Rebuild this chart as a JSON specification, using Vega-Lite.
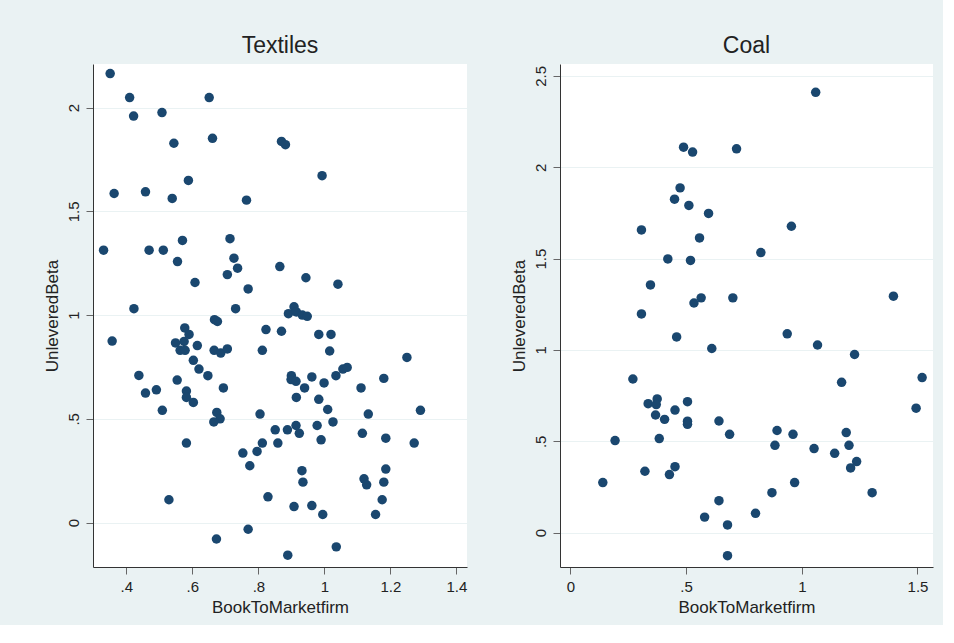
{
  "$schema": "https://vega.github.io/schema/vega-lite/v6.json",
  "background": "#EAF2F3",
  "padding": {"left": 42, "top": 35, "right": 10, "bottom": 10},
  "spacing": 43,
  "config": {
    "font": "Liberation Sans",
    "view": {"fill": "white", "stroke": null},
    "axis": {
      "domainColor": "#333333",
      "domainWidth": 1,
      "tickColor": "#666666",
      "tickSize": 7,
      "labelFontSize": 15,
      "labelColor": "#222222",
      "labelFont": "Liberation Sans",
      "titleFont": "Liberation Sans",
      "titleFontSize": 17,
      "titleFontWeight": "normal",
      "titleColor": "#222222",
      "gridColor": "#EAF2F3",
      "gridWidth": 1.2,
      "labelPadding": 5,
      "titlePadding": 5
    },
    "title": {"fontSize": 23, "fontWeight": "normal", "color": "#222222", "font": "Liberation Sans", "offset": 6, "anchor": "middle", "frame": "group"}
  },
  "datasets": {
    "textiles": [
      {"BookToMarketfirm": 0.351, "UnleveredBeta": 2.164},
      {"BookToMarketfirm": 0.410, "UnleveredBeta": 2.048},
      {"BookToMarketfirm": 0.651, "UnleveredBeta": 2.048},
      {"BookToMarketfirm": 0.422, "UnleveredBeta": 1.959},
      {"BookToMarketfirm": 0.508, "UnleveredBeta": 1.976},
      {"BookToMarketfirm": 0.544, "UnleveredBeta": 1.828},
      {"BookToMarketfirm": 0.661, "UnleveredBeta": 1.852},
      {"BookToMarketfirm": 0.870, "UnleveredBeta": 1.837},
      {"BookToMarketfirm": 0.882, "UnleveredBeta": 1.821},
      {"BookToMarketfirm": 0.993, "UnleveredBeta": 1.672},
      {"BookToMarketfirm": 0.588, "UnleveredBeta": 1.649},
      {"BookToMarketfirm": 0.363, "UnleveredBeta": 1.586},
      {"BookToMarketfirm": 0.458, "UnleveredBeta": 1.594},
      {"BookToMarketfirm": 0.539, "UnleveredBeta": 1.562},
      {"BookToMarketfirm": 0.764, "UnleveredBeta": 1.554},
      {"BookToMarketfirm": 0.331, "UnleveredBeta": 1.313},
      {"BookToMarketfirm": 0.469, "UnleveredBeta": 1.313},
      {"BookToMarketfirm": 0.512, "UnleveredBeta": 1.313},
      {"BookToMarketfirm": 0.570, "UnleveredBeta": 1.360},
      {"BookToMarketfirm": 0.714, "UnleveredBeta": 1.368},
      {"BookToMarketfirm": 0.555, "UnleveredBeta": 1.258},
      {"BookToMarketfirm": 0.726, "UnleveredBeta": 1.274},
      {"BookToMarketfirm": 0.737, "UnleveredBeta": 1.226},
      {"BookToMarketfirm": 0.706, "UnleveredBeta": 1.195},
      {"BookToMarketfirm": 0.865, "UnleveredBeta": 1.234},
      {"BookToMarketfirm": 0.944, "UnleveredBeta": 1.180},
      {"BookToMarketfirm": 1.041, "UnleveredBeta": 1.149},
      {"BookToMarketfirm": 0.608, "UnleveredBeta": 1.157},
      {"BookToMarketfirm": 0.769, "UnleveredBeta": 1.126},
      {"BookToMarketfirm": 0.423, "UnleveredBeta": 1.031},
      {"BookToMarketfirm": 0.731, "UnleveredBeta": 1.031},
      {"BookToMarketfirm": 0.908, "UnleveredBeta": 1.040},
      {"BookToMarketfirm": 0.891, "UnleveredBeta": 1.007},
      {"BookToMarketfirm": 0.915, "UnleveredBeta": 1.015},
      {"BookToMarketfirm": 0.933, "UnleveredBeta": 1.000},
      {"BookToMarketfirm": 0.948, "UnleveredBeta": 0.994},
      {"BookToMarketfirm": 0.357, "UnleveredBeta": 0.875},
      {"BookToMarketfirm": 0.667, "UnleveredBeta": 0.978},
      {"BookToMarketfirm": 0.676, "UnleveredBeta": 0.969},
      {"BookToMarketfirm": 0.577, "UnleveredBeta": 0.938},
      {"BookToMarketfirm": 0.590, "UnleveredBeta": 0.907},
      {"BookToMarketfirm": 0.549, "UnleveredBeta": 0.866},
      {"BookToMarketfirm": 0.575, "UnleveredBeta": 0.873},
      {"BookToMarketfirm": 0.563, "UnleveredBeta": 0.830},
      {"BookToMarketfirm": 0.578, "UnleveredBeta": 0.830},
      {"BookToMarketfirm": 0.615, "UnleveredBeta": 0.853},
      {"BookToMarketfirm": 0.603, "UnleveredBeta": 0.782},
      {"BookToMarketfirm": 0.620, "UnleveredBeta": 0.740},
      {"BookToMarketfirm": 0.647, "UnleveredBeta": 0.708},
      {"BookToMarketfirm": 0.666, "UnleveredBeta": 0.830},
      {"BookToMarketfirm": 0.686, "UnleveredBeta": 0.817},
      {"BookToMarketfirm": 0.706, "UnleveredBeta": 0.837},
      {"BookToMarketfirm": 0.812, "UnleveredBeta": 0.830},
      {"BookToMarketfirm": 0.823, "UnleveredBeta": 0.930},
      {"BookToMarketfirm": 0.870, "UnleveredBeta": 0.922},
      {"BookToMarketfirm": 0.983, "UnleveredBeta": 0.907},
      {"BookToMarketfirm": 1.020, "UnleveredBeta": 0.907},
      {"BookToMarketfirm": 1.016, "UnleveredBeta": 0.827},
      {"BookToMarketfirm": 1.250, "UnleveredBeta": 0.796},
      {"BookToMarketfirm": 0.438, "UnleveredBeta": 0.709},
      {"BookToMarketfirm": 0.458, "UnleveredBeta": 0.624},
      {"BookToMarketfirm": 0.491, "UnleveredBeta": 0.640},
      {"BookToMarketfirm": 0.509, "UnleveredBeta": 0.541},
      {"BookToMarketfirm": 0.554, "UnleveredBeta": 0.687},
      {"BookToMarketfirm": 0.582, "UnleveredBeta": 0.634},
      {"BookToMarketfirm": 0.582, "UnleveredBeta": 0.603},
      {"BookToMarketfirm": 0.603, "UnleveredBeta": 0.579},
      {"BookToMarketfirm": 0.582, "UnleveredBeta": 0.383},
      {"BookToMarketfirm": 0.694, "UnleveredBeta": 0.649},
      {"BookToMarketfirm": 0.674, "UnleveredBeta": 0.531},
      {"BookToMarketfirm": 0.684, "UnleveredBeta": 0.500},
      {"BookToMarketfirm": 0.665, "UnleveredBeta": 0.485},
      {"BookToMarketfirm": 0.529, "UnleveredBeta": 0.110},
      {"BookToMarketfirm": 0.673, "UnleveredBeta": -0.079},
      {"BookToMarketfirm": 0.805, "UnleveredBeta": 0.523},
      {"BookToMarketfirm": 0.753, "UnleveredBeta": 0.335},
      {"BookToMarketfirm": 0.774, "UnleveredBeta": 0.274},
      {"BookToMarketfirm": 0.796, "UnleveredBeta": 0.343},
      {"BookToMarketfirm": 0.812, "UnleveredBeta": 0.383},
      {"BookToMarketfirm": 0.829, "UnleveredBeta": 0.124},
      {"BookToMarketfirm": 0.769, "UnleveredBeta": -0.032},
      {"BookToMarketfirm": 0.851, "UnleveredBeta": 0.447},
      {"BookToMarketfirm": 0.859, "UnleveredBeta": 0.383},
      {"BookToMarketfirm": 0.888, "UnleveredBeta": 0.447},
      {"BookToMarketfirm": 0.914, "UnleveredBeta": 0.468},
      {"BookToMarketfirm": 0.924, "UnleveredBeta": 0.430},
      {"BookToMarketfirm": 0.915, "UnleveredBeta": 0.603},
      {"BookToMarketfirm": 0.900, "UnleveredBeta": 0.708},
      {"BookToMarketfirm": 0.899, "UnleveredBeta": 0.689},
      {"BookToMarketfirm": 0.914, "UnleveredBeta": 0.681},
      {"BookToMarketfirm": 0.940, "UnleveredBeta": 0.649},
      {"BookToMarketfirm": 0.962, "UnleveredBeta": 0.702},
      {"BookToMarketfirm": 0.999, "UnleveredBeta": 0.673},
      {"BookToMarketfirm": 0.983, "UnleveredBeta": 0.594},
      {"BookToMarketfirm": 1.010, "UnleveredBeta": 0.545},
      {"BookToMarketfirm": 0.978, "UnleveredBeta": 0.468},
      {"BookToMarketfirm": 1.026, "UnleveredBeta": 0.485},
      {"BookToMarketfirm": 0.990, "UnleveredBeta": 0.399},
      {"BookToMarketfirm": 1.035, "UnleveredBeta": 0.708},
      {"BookToMarketfirm": 1.056, "UnleveredBeta": 0.740},
      {"BookToMarketfirm": 1.069, "UnleveredBeta": 0.748},
      {"BookToMarketfirm": 0.932, "UnleveredBeta": 0.250},
      {"BookToMarketfirm": 0.935, "UnleveredBeta": 0.195},
      {"BookToMarketfirm": 0.908, "UnleveredBeta": 0.077},
      {"BookToMarketfirm": 0.962, "UnleveredBeta": 0.082},
      {"BookToMarketfirm": 0.995, "UnleveredBeta": 0.039},
      {"BookToMarketfirm": 0.889, "UnleveredBeta": -0.157},
      {"BookToMarketfirm": 1.036, "UnleveredBeta": -0.117},
      {"BookToMarketfirm": 1.111, "UnleveredBeta": 0.649},
      {"BookToMarketfirm": 1.133, "UnleveredBeta": 0.523},
      {"BookToMarketfirm": 1.115, "UnleveredBeta": 0.430},
      {"BookToMarketfirm": 1.120, "UnleveredBeta": 0.211},
      {"BookToMarketfirm": 1.128, "UnleveredBeta": 0.182},
      {"BookToMarketfirm": 1.155, "UnleveredBeta": 0.039},
      {"BookToMarketfirm": 1.180, "UnleveredBeta": 0.695},
      {"BookToMarketfirm": 1.186, "UnleveredBeta": 0.407},
      {"BookToMarketfirm": 1.186, "UnleveredBeta": 0.258},
      {"BookToMarketfirm": 1.180, "UnleveredBeta": 0.195},
      {"BookToMarketfirm": 1.175, "UnleveredBeta": 0.110},
      {"BookToMarketfirm": 1.291, "UnleveredBeta": 0.541},
      {"BookToMarketfirm": 1.272, "UnleveredBeta": 0.383}
    ],
    "coal": [
      {"BookToMarketfirm": 1.060, "UnleveredBeta": 2.410},
      {"BookToMarketfirm": 0.489, "UnleveredBeta": 2.110},
      {"BookToMarketfirm": 0.528, "UnleveredBeta": 2.083},
      {"BookToMarketfirm": 0.718, "UnleveredBeta": 2.101},
      {"BookToMarketfirm": 0.474, "UnleveredBeta": 1.887},
      {"BookToMarketfirm": 0.450, "UnleveredBeta": 1.825},
      {"BookToMarketfirm": 0.512, "UnleveredBeta": 1.791},
      {"BookToMarketfirm": 0.597, "UnleveredBeta": 1.747},
      {"BookToMarketfirm": 0.307, "UnleveredBeta": 1.657},
      {"BookToMarketfirm": 0.955, "UnleveredBeta": 1.677},
      {"BookToMarketfirm": 0.558, "UnleveredBeta": 1.613},
      {"BookToMarketfirm": 0.823, "UnleveredBeta": 1.533},
      {"BookToMarketfirm": 0.421, "UnleveredBeta": 1.498},
      {"BookToMarketfirm": 0.519, "UnleveredBeta": 1.490},
      {"BookToMarketfirm": 0.346, "UnleveredBeta": 1.356},
      {"BookToMarketfirm": 0.565, "UnleveredBeta": 1.285},
      {"BookToMarketfirm": 0.534, "UnleveredBeta": 1.257},
      {"BookToMarketfirm": 0.702, "UnleveredBeta": 1.285},
      {"BookToMarketfirm": 1.396, "UnleveredBeta": 1.294},
      {"BookToMarketfirm": 0.307, "UnleveredBeta": 1.197},
      {"BookToMarketfirm": 0.459, "UnleveredBeta": 1.071},
      {"BookToMarketfirm": 0.611, "UnleveredBeta": 1.008},
      {"BookToMarketfirm": 0.937, "UnleveredBeta": 1.088},
      {"BookToMarketfirm": 1.068, "UnleveredBeta": 1.027},
      {"BookToMarketfirm": 1.228, "UnleveredBeta": 0.975},
      {"BookToMarketfirm": 0.270, "UnleveredBeta": 0.841},
      {"BookToMarketfirm": 1.172, "UnleveredBeta": 0.823},
      {"BookToMarketfirm": 1.520, "UnleveredBeta": 0.849},
      {"BookToMarketfirm": 1.494, "UnleveredBeta": 0.681},
      {"BookToMarketfirm": 0.336, "UnleveredBeta": 0.706},
      {"BookToMarketfirm": 0.375, "UnleveredBeta": 0.732},
      {"BookToMarketfirm": 0.371, "UnleveredBeta": 0.701},
      {"BookToMarketfirm": 0.368, "UnleveredBeta": 0.644},
      {"BookToMarketfirm": 0.407, "UnleveredBeta": 0.620},
      {"BookToMarketfirm": 0.452, "UnleveredBeta": 0.671},
      {"BookToMarketfirm": 0.506, "UnleveredBeta": 0.717},
      {"BookToMarketfirm": 0.506, "UnleveredBeta": 0.610},
      {"BookToMarketfirm": 0.506, "UnleveredBeta": 0.593},
      {"BookToMarketfirm": 0.642, "UnleveredBeta": 0.611},
      {"BookToMarketfirm": 0.384, "UnleveredBeta": 0.515},
      {"BookToMarketfirm": 0.193, "UnleveredBeta": 0.504},
      {"BookToMarketfirm": 0.688, "UnleveredBeta": 0.538},
      {"BookToMarketfirm": 0.893, "UnleveredBeta": 0.559},
      {"BookToMarketfirm": 0.884, "UnleveredBeta": 0.478},
      {"BookToMarketfirm": 0.962, "UnleveredBeta": 0.538},
      {"BookToMarketfirm": 1.053, "UnleveredBeta": 0.460},
      {"BookToMarketfirm": 1.142, "UnleveredBeta": 0.434},
      {"BookToMarketfirm": 1.192, "UnleveredBeta": 0.548},
      {"BookToMarketfirm": 1.204, "UnleveredBeta": 0.478},
      {"BookToMarketfirm": 1.237, "UnleveredBeta": 0.389},
      {"BookToMarketfirm": 1.211, "UnleveredBeta": 0.354},
      {"BookToMarketfirm": 0.322, "UnleveredBeta": 0.336},
      {"BookToMarketfirm": 0.428, "UnleveredBeta": 0.318},
      {"BookToMarketfirm": 0.452, "UnleveredBeta": 0.361},
      {"BookToMarketfirm": 0.140, "UnleveredBeta": 0.274},
      {"BookToMarketfirm": 0.969, "UnleveredBeta": 0.274},
      {"BookToMarketfirm": 0.871, "UnleveredBeta": 0.219},
      {"BookToMarketfirm": 1.304, "UnleveredBeta": 0.219},
      {"BookToMarketfirm": 0.642, "UnleveredBeta": 0.175},
      {"BookToMarketfirm": 0.580, "UnleveredBeta": 0.085},
      {"BookToMarketfirm": 0.800, "UnleveredBeta": 0.106},
      {"BookToMarketfirm": 0.679, "UnleveredBeta": 0.042},
      {"BookToMarketfirm": 0.679, "UnleveredBeta": -0.126}
    ]
  },
  "hconcat": [
    {
      "title": "Textiles",
      "width": 374,
      "height": 503,
      "data": {"name": "textiles"},
      "mark": {"type": "point", "filled": true, "color": "#1A476F", "opacity": 1, "size": 90},
      "encoding": {
        "x": {"field": "BookToMarketfirm", "type": "quantitative",
              "scale": {"domain": [0.299, 1.432], "nice": false, "zero": false},
              "axis": {"grid": false, "values": [0.4, 0.6, 0.8, 1, 1.2, 1.4], "format": ".1~f",
                       "labelExpr": "datum.value > 0 && datum.value < 1 ? slice(datum.label, 1) : datum.label"}},
        "y": {"field": "UnleveredBeta", "type": "quantitative",
              "scale": {"domain": [-0.214, 2.21], "nice": false, "zero": false},
              "axis": {"grid": true, "values": [0, 0.5, 1, 1.5, 2], "format": ".1~f", "labelAngle": -90,
                       "labelExpr": "datum.value > 0 && datum.value < 1 ? slice(datum.label, 1) : datum.label"}}
      }
    },
    {
      "title": "Coal",
      "width": 373,
      "height": 503,
      "data": {"name": "coal"},
      "mark": {"type": "point", "filled": true, "color": "#1A476F", "opacity": 1, "size": 90},
      "encoding": {
        "x": {"field": "BookToMarketfirm", "type": "quantitative",
              "scale": {"domain": [-0.045, 1.567], "nice": false, "zero": false},
              "axis": {"grid": false, "values": [0, 0.5, 1, 1.5], "format": ".1~f",
                       "labelExpr": "datum.value > 0 && datum.value < 1 ? slice(datum.label, 1) : datum.label"}},
        "y": {"field": "UnleveredBeta", "type": "quantitative",
              "scale": {"domain": [-0.188, 2.565], "nice": false, "zero": false},
              "axis": {"grid": true, "values": [0, 0.5, 1, 1.5, 2, 2.5], "format": ".1~f", "labelAngle": -90,
                       "labelExpr": "datum.value > 0 && datum.value < 1 ? slice(datum.label, 1) : datum.label"}}
      }
    }
  ]
}
